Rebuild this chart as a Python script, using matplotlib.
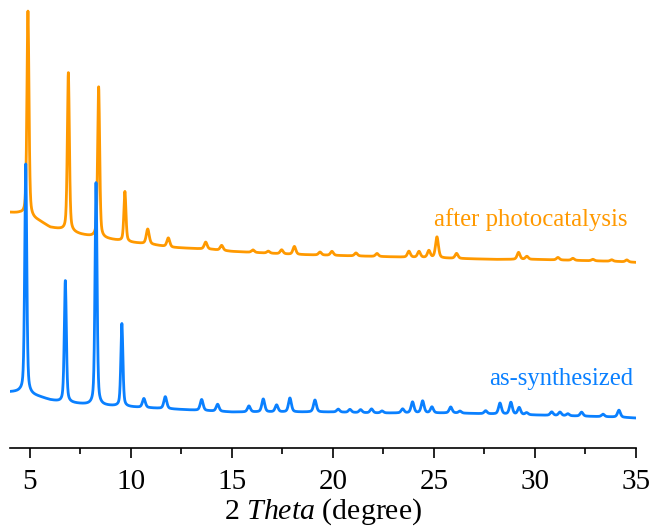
import numpy as np
import matplotlib
matplotlib.use("Agg")
import matplotlib.pyplot as plt

# ---- diffraction data (2-theta in degrees, intensity in arbitrary units) ----
# background level of each pattern, sampled along 2-theta
bg_theta = [4.0, 4.5, 5.5, 6.0, 6.5, 7.5, 8.0, 9.0, 10.0, 11.0, 12.0, 13.0,
            14.0, 15.0, 16.0, 17.0, 18.0, 20.0, 22.0, 24.0, 26.0, 28.0, 30.0,
            32.0, 34.0, 35.0]
bg_after = [236, 235, 227, 221, 219, 214, 212, 209, 206, 204, 201, 200,
            199, 197, 196, 195, 194, 193, 192, 191, 190, 189, 189,
            188, 187, 186]
bg_synth = [56, 56, 51, 48, 46, 44, 43, 42, 41, 40, 39, 38,
            37, 36, 36, 36, 36, 36, 35, 35, 35, 34, 33,
            32, 31, 30]

# reflections of the sample after photocatalysis: position, net intensity
peaks_after_pos = [4.90, 6.90, 8.40, 9.70, 10.83, 11.85, 13.70, 14.49, 16.04,
                   16.80, 17.46, 18.09, 19.36, 19.95, 21.14, 22.18, 23.76,
                   24.26, 24.75, 25.15, 26.12, 29.19, 29.60, 31.14, 31.88,
                   32.87, 33.80, 34.55]
peaks_after_int = [206, 159, 151, 50, 15, 9, 7, 5, 2.5,
                   2, 4, 8, 3, 4, 3, 3, 6,
                   6, 7, 21, 5, 7, 3, 2.5, 2,
                   1.5, 1.5, 2]

# reflections of the as-synthesized sample: position, net intensity
peaks_synth_pos = [4.79, 6.75, 8.27, 9.55, 10.64, 11.70, 13.50, 14.29, 15.84,
                   16.55, 17.21, 17.87, 19.11, 20.26, 20.84, 21.37, 21.91,
                   22.43, 23.45, 23.94, 24.44, 24.90, 25.83, 26.29, 27.56,
                   28.27, 28.81, 29.22, 29.59, 30.83, 31.24, 31.63, 32.31,
                   33.37, 34.16]
peaks_synth_int = [230, 122, 223, 83, 9, 12, 11, 7, 6,
                   13, 7, 14, 12, 3, 3, 3, 4,
                   2, 4, 11, 12, 6, 6, 2, 3,
                   11, 12, 7, 2, 3.5, 3.5, 2, 4,
                   2.5, 7]

series_labels = ["after photocatalysis", "as-synthesized"]
series_colors = ["#FF9900", "#0A80FF"]


def pattern(theta, bg_x, bg_y, pos, inten, eta=0.45):
    """Background plus pseudo-Voigt reflections (weak ones slightly broader)."""
    y = np.interp(theta, bg_x, bg_y).astype(float)
    for p, a in zip(pos, inten):
        fwhm = 0.12 if a > 40 else 0.17
        hw = fwhm / 2.0
        sig = fwhm / 2.3548
        d = theta - p
        lor = 1.0 / (1.0 + (d / hw) ** 2)
        gau = np.exp(-0.5 * (d / sig) ** 2)
        y += a * (eta * lor + (1 - eta) * gau)
    return y


theta = np.arange(4.0, 35.0 + 1e-9, 0.01)
y_after = pattern(theta, bg_theta, bg_after, peaks_after_pos, peaks_after_int)
y_synth = pattern(theta, bg_theta, bg_synth, peaks_synth_pos, peaks_synth_int)

plt.rcParams["font.family"] = ["Liberation Serif", "DejaVu Serif"]
plt.rcParams["mathtext.fontset"] = "custom"
plt.rcParams["mathtext.it"] = "Liberation Serif:italic"
plt.rcParams["mathtext.rm"] = "Liberation Serif"

fig = plt.figure(figsize=(6.56, 5.27), dpi=100)
ax = fig.add_axes([0.0149, 0.150, 0.9545, 0.850])

ax.plot(theta, y_after, color=series_colors[0], lw=2.0, zorder=2)
ax.plot(theta, y_synth, color=series_colors[1], lw=2.0, zorder=3)

ax.text(34.6, 222, series_labels[0], color=series_colors[0], fontsize=17.8,
        ha="right", va="baseline")
ax.text(34.85, 63, series_labels[1], color=series_colors[1], fontsize=17.8,
        ha="right", va="baseline")

ax.set_xlim(4.0, 35.0)
ax.set_ylim(0, 449)

for side in ("left", "right", "top"):
    ax.spines[side].set_visible(False)
ax.spines["bottom"].set_linewidth(1.2)
ax.set_yticks([])
ax.set_xticks(np.arange(5, 36, 5))
ax.set_xticks(np.arange(7.5, 35, 5), minor=True)
ax.tick_params(axis="x", which="major", length=7.2, width=1.2, pad=8,
               labelsize=21)
ax.tick_params(axis="x", which="minor", length=4.0, width=1.2)
ax.set_xlabel(r"2 $\mathit{Theta}$ (degree)", fontsize=21.5, labelpad=1)

fig.savefig("out.png", dpi=100)
